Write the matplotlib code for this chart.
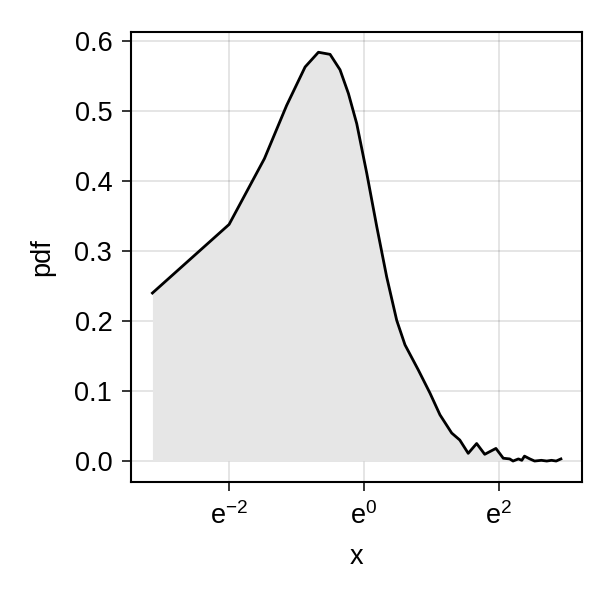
import numpy as np
import matplotlib
matplotlib.use("Agg")
import matplotlib.pyplot as plt

plt.rcParams['font.family'] = ['Liberation Sans', 'DejaVu Sans']
plt.rcParams['mathtext.fontset'] = 'custom'
plt.rcParams['mathtext.rm'] = 'Liberation Sans'

# density estimate (x on natural scale)
x = [0.0433, 0.135, 0.228, 0.317, 0.417, 0.508, 0.604, 0.700, 0.793, 0.897,
     1.041, 1.207, 1.399, 1.623, 1.835, 2.237, 2.659, 3.083, 3.669, 4.137,
     4.688, 5.312, 5.989, 7.071, 7.885, 8.671, 9.116, 9.875, 10.38, 10.80,
     11.70, 12.55, 13.87, 15.03, 16.12, 17.29, 18.54]
pdf = [0.240, 0.338, 0.432, 0.508, 0.563, 0.584, 0.581, 0.559, 0.525, 0.482,
       0.411, 0.335, 0.263, 0.201, 0.166, 0.130, 0.097, 0.066, 0.040, 0.030,
       0.011, 0.025, 0.0096, 0.018, 0.004, 0.003, 0.000, 0.003, 0.001, 0.007,
       0.003, 0.000, 0.001, 0.000, 0.001, 0.000, 0.003]

xticks = [np.exp(-2), np.exp(0), np.exp(2)]
xticklabels = [r'$\mathregular{e^{-2}}$', r'$\mathregular{e^{0}}$', r'$\mathregular{e^{2}}$']
yticks = [0.0, 0.1, 0.2, 0.3, 0.4, 0.5, 0.6]

fig = plt.figure(figsize=(6.14, 6.02), dpi=100)
ax = fig.add_axes([0.2134, 0.1993, 0.7346, 0.7475])

ax.fill_between(x, 0, pdf, color='#e6e6e6', linewidth=0, zorder=1)
ax.plot(x, pdf, color='black', linewidth=2.0, zorder=3)

ax.set_xscale('log', base=np.e)
ax.set_xlim(np.exp(-3.457), np.exp(3.234))
ax.set_ylim(-0.030, 0.6129)
ax.set_xticks(xticks)
ax.set_xticklabels(xticklabels)
ax.xaxis.set_minor_locator(matplotlib.ticker.NullLocator())
ax.set_yticks(yticks)
ax.set_yticklabels(['%.1f' % v for v in yticks])

ax.grid(True, color='black', alpha=0.12, linewidth=1.2, zorder=0)
ax.set_axisbelow(True)
for s in ax.spines.values():
    s.set_linewidth(1.5)
ax.tick_params(labelsize=19.5, length=6.5, width=1.1)
ax.tick_params(axis='y', pad=7)
ax.tick_params(axis='x', pad=8)

ax.set_xlabel('x', fontsize=19.5, labelpad=10)
ax.set_ylabel('pdf', fontsize=19.5, labelpad=14)

fig.savefig('out.png', dpi=100)
